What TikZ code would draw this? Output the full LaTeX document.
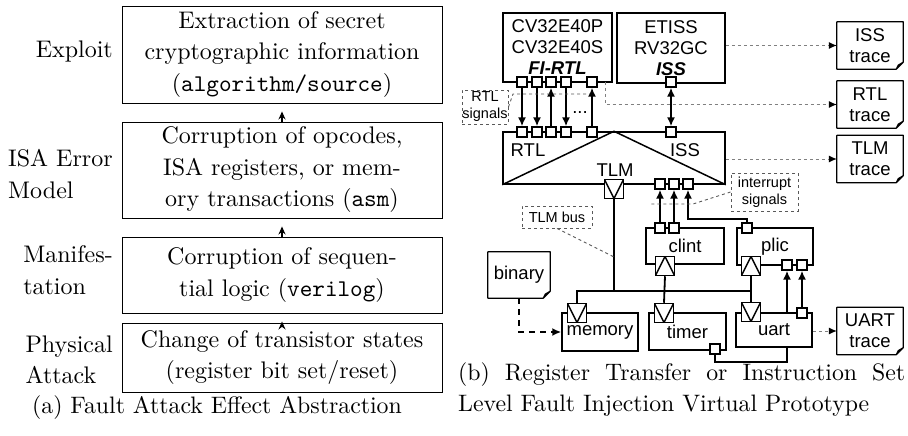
\documentclass[tikz,border=0pt]{standalone}
\usepackage{fontspec}
\setmainfont{lmroman10-regular.otf}[BoldFont=lmroman10-bold.otf, ItalicFont=lmroman10-italic.otf, BoldItalicFont=lmroman10-bolditalic.otf]
\setmonofont{lmmono10-regular.otf}
\newfontfamily\arial{Liberation Sans}
\usetikzlibrary{arrows.meta,positioning}

\tikzset{
  layer/.style={draw, line width=0.9pt, minimum width=320pt, inner sep=0pt, align=center,
    font=\fontsize{24}{31.5}\selectfont},
  lbl/.style={anchor=east, align=left, inner sep=0pt, font=\fontsize{24}{31.5}\selectfont},
  lift/.style={line width=1.3pt, -{Stealth[length=8pt,width=7pt]}, shorten >=8pt},
  blk/.style={draw, line width=1.5pt, inner sep=0pt, align=center,
    font=\arial\fontsize{18.5}{21}\selectfont},
  txt/.style={inner sep=0pt, font=\arial\fontsize{18.5}{21}\selectfont},
  port/.style={draw, fill=white, minimum size=10pt, inner sep=0pt, line width=1.3pt},
  sockdn/.style={draw, fill=white, minimum size=19pt, inner sep=0pt, line width=1.5pt,
    path picture={\draw[line width=1.5pt] (path picture bounding box.north west)
      -- (path picture bounding box.south) -- (path picture bounding box.north east);}},
  sockup/.style={draw, fill=white, minimum size=19pt, inner sep=0pt, line width=1.5pt,
    path picture={\draw[line width=1.5pt] (path picture bounding box.south west)
      -- (path picture bounding box.north) -- (path picture bounding box.south east);}},
  sig/.style={line width=1.8pt, -{Latex[length=9pt,width=8pt]}},
  wire/.style={line width=1.8pt},
  trc/.style={gray, dashed, line width=1pt, -{Latex[length=8pt,width=7pt,color=black]}},
  note/.style={draw=gray!70!black, dashed, line width=0.9pt, align=center, inner sep=0pt,
    font=\arial\fontsize{14.5}{17}\selectfont},
  noteln/.style={gray!70!black, dashed, line width=0.9pt},
  doc/.style={minimum width=66pt, minimum height=47pt, inner sep=0pt, align=center,
    font=\arial\fontsize{18.5}{21}\selectfont},
}

\begin{document}
\begin{tikzpicture}[x=1pt,y=-1pt]
\useasboundingbox (0,0) rectangle (908,436);

% (a) abstraction levels
\node[layer, minimum height=97pt] (l1) at (282,54.5) {Extraction of secret\\cryptographic information\\(\texttt{algorithm/source})};
\node[layer, minimum height=96pt] (l2) at (282,170) {Corruption of opcodes,\\ISA registers, or mem-\\ory transactions (\texttt{asm})};
\node[layer, minimum height=76pt] (l3) at (282,275) {Corruption of sequen-\\tial logic (\texttt{verilog})};
\node[layer, minimum height=69pt] (l4) at (282,357.5) {Change of transistor states\\(register bit set/reset)};
\draw[lift] (l2) -- (l1);
\draw[lift] (l3) -- (l2);
\draw[lift] (l4) -- (l3);
\node[lbl] (n1) at (113,52) {Exploit};
\node[lbl] (n2) at (113,174) {ISA Error\\Model};
\node[lbl] (n3) at (113,270) {Manifes-\\tation};
\node[lbl] (n4) at (113,360) {Physical\\Attack};
\node[inner sep=0pt, font=\fontsize{23.8}{31.5}\selectfont] (capa) at (217,408) {(a) Fault Attack Effect Abstraction};

% (b) virtual prototype
\node[blk, minimum width=109pt, minimum height=69pt] (rtl) at (557.5,47.5) {CV32E40P\\CV32E40S\\\textbf{\textit{FI-RTL}}};
\node[blk, minimum width=108pt, minimum height=70pt] (iss) at (671,48) {ETISS\\RV32GC\\\textbf{\textit{ISS}}};
\node[blk, minimum width=222pt, minimum height=52pt] (big) at (614,158) {};
\draw[line width=1.5pt] (big.south west) -- (big.north) -- (big.south east);
\node[txt] (rtllbl) at (528,150) {RTL};
\node[txt] (isslbl) at (685,150) {ISS};
\node[txt] (tlmlbl) at (615,170) {TLM};

\node[blk, minimum width=78pt, minimum height=36pt] (clint) at (685,246) {clint};
\node[blk, minimum width=76pt, minimum height=37pt] (plic) at (775,246.5) {plic};
\node[blk, minimum width=76pt, minimum height=38pt] (mem) at (600,332) {memory};
\node[blk, minimum width=77pt, minimum height=37pt] (timer) at (687.5,331.5) {timer};
\node[blk, minimum width=76pt, minimum height=34pt] (uart) at (774,330) {uart};

% ports
\foreach \k/\x in {1/522,2/537,3/551,4/566,5/592} {
  \node[port] (r\k) at (\x,82) {};
  \node[port] (s\k) at (\x,132) {};
}
\node[port] (i1) at (671,82) {};
\node[port] (i2) at (671,132) {};
\foreach \k/\x in {1/660,2/674,3/688}
  \node[port] (q\k) at (\x,184) {};
\node[port] (c1) at (660,228) {};
\node[port] (c2) at (674,228) {};
\node[port] (p0) at (747,228) {};
\node[port] (p1) at (787,265) {};
\node[port] (p2) at (802,265) {};
\node[port] (u1) at (802,313) {};
\node[port] (t1) at (715,349) {};

% sockets
\node[sockdn] (tsock) at (614,189) {};
\node[sockup] (csock) at (665,266) {};
\node[sockup] (psock) at (751,266) {};
\node[sockdn] (msock) at (577,313) {};
\node[sockdn] (tmsock) at (664,313) {};
\node[sockdn] (usock) at (751,312) {};

% signals
\foreach \k in {1,2,4} \draw[sig] (r\k) -- (s\k);
\foreach \k in {3,5} \draw[sig] (s\k) -- (r\k);
\draw[line width=1.8pt, {Latex[length=9pt,width=8pt]}-{Latex[length=9pt,width=8pt]}] (i1) -- (i2);
\node[txt] (dots) at (580,113) {...};
\draw[sig] (c1) -- (q1);
\draw[sig] (c2) -- (q2);
\draw[sig] (p0.north) -- ++(0,-3) -| (q3.south);
\draw[sig] (u1) -- (p2);
\draw[sig] (uart.north -| p1) -- (p1);
\draw[wire] (t1.south) -- ++(0,7) -| (uart.south -| p1);

% TLM bus
\coordinate (busR) at (751,291);
\draw[wire] (msock.north) |- (busR) -- (psock.south);
\draw[wire] (busR) -- (usock.north);
\draw[wire] (tsock.south) -- (tsock.south |- busR);
\draw[wire] (csock.south) -- (tmsock.north);

% documents
\node[doc] (isstr) at (870,45.5) {ISS\\trace};
\node[doc] (rtltr) at (870,104.5) {RTL\\trace};
\node[doc] (tlmtr) at (870,159) {TLM\\trace};
\node[doc] (uarttr) at (870,331) {UART\\trace};
\node[doc, minimum width=62pt, minimum height=46pt] (bin) at (519,275) {binary};
\foreach \d in {isstr,rtltr,tlmtr,uarttr,bin}
  \draw[line width=1.2pt, line join=round] (\d.north west) -- (\d.north east) -- ([yshift=7pt]\d.south east)
    -- ([xshift=-7pt]\d.south east) -- (\d.south west) -- cycle
    ([xshift=-7pt]\d.south east) -- ([xshift=-5pt,yshift=4pt]\d.south east) -- ([yshift=7pt]\d.south east);

% traces
\coordinate (rtlo) at (605,82);
\draw[trc] (iss.east |- isstr) -- (isstr);
\draw[trc] (rtlo) |- (rtltr);
\draw[trc] (big.east |- tlmtr) -- (tlmtr);
\draw[trc] (uart.east |- uarttr) -- (uarttr);
\draw[line width=1.8pt, dash pattern=on 6pt off 5pt, -{Latex[length=9pt,width=8pt]}] (bin.south) |- (mem.west);

% notes
\node[note, minimum width=46pt, minimum height=34pt] (rsig) at (485,107) {RTL\\signals};
\coordinate (rsA) at (513,94);
\coordinate (rsB) at (590,94);
\draw[noteln] (rsig.east) -- (rsA) -- (rsB);
\node[note, minimum width=70pt, minimum height=22pt] (tbus) at (557,217) {TLM bus};
\coordinate (busP) at (614,257);
\draw[noteln] (tbus.south) -- (busP);
\node[note, minimum width=67pt, minimum height=38pt] (isig) at (764.5,192) {interrupt\\signals};
\coordinate (isA) at (693,204);
\coordinate (isB) at (649,204);
\draw[noteln] (isig.west) -- (isA) -- (isB);

\node[anchor=north west, inner sep=0pt, align=left, font=\fontsize{23.8}{31.5}\selectfont] (capb) at (458,362)
  {\makebox[447pt][s]{(b) Register Transfer or Instruction Set}\\Level Fault Injection Virtual Prototype};
\end{tikzpicture}
\end{document}
